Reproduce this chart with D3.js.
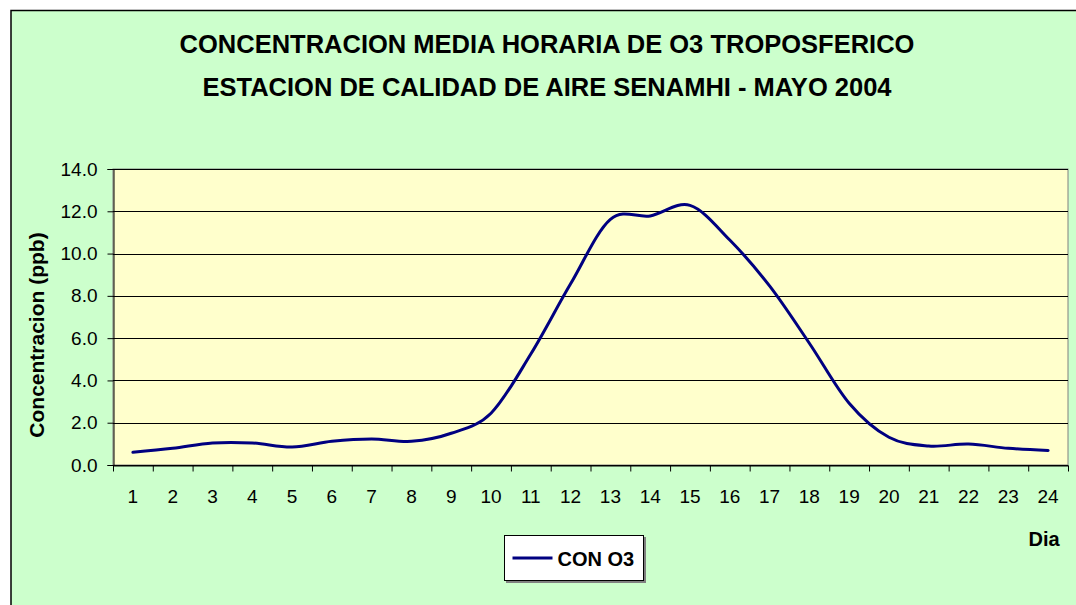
<!DOCTYPE html>
<html>
<head>
<meta charset="utf-8">
<script src="https://cdn.jsdelivr.net/npm/d3@7/dist/d3.min.js"></script>
<style>
  html, body { margin: 0; padding: 0; background: #ffffff; }
  svg { display: block; }
  text { font-family: "Liberation Sans", Arial, sans-serif; fill: #000; }
</style>
</head>
<body>
<svg id="chart" width="1076" height="605"></svg>
<script>
// Hourly mean O3 concentration (ppb), hours 1..24
const hours = ["1","2","3","4","5","6","7","8","9","10","11","12","13","14","15","16","17","18","19","20","21","22","23","24"];
const o3Values = [0.60, 0.79, 1.04, 1.04, 0.85, 1.12, 1.23, 1.12, 1.50, 2.45, 5.25, 8.57, 11.62, 11.78, 12.28, 10.64, 8.47, 5.76, 2.92, 1.31, 0.90, 0.99, 0.79, 0.69];
const yTicks = [0, 2, 4, 6, 8, 10, 12, 14];
const titleLines = ["CONCENTRACION MEDIA HORARIA DE O3 TROPOSFERICO", "ESTACION DE CALIDAD DE AIRE SENAMHI - MAYO 2004"];
const seriesName = "CON O3";

const svg = d3.select("#chart");
const W = 1076, H = 605;
const plot = { left: 113, right: 1068, top: 169, bottom: 465 };

// Chart area background and frame
svg.append("rect")
  .attr("x", 11).attr("y", 10.5)
  .attr("width", W + 20).attr("height", H + 20)
  .attr("fill", "#ccffcc")
  .attr("stroke", "#000").attr("stroke-width", 1.5);

// Plot area
svg.append("rect")
  .attr("x", plot.left).attr("y", plot.top)
  .attr("width", plot.right - plot.left).attr("height", plot.bottom - plot.top)
  .attr("fill", "#ffffcc")
  .attr("stroke", "#808080").attr("stroke-width", 1);

const x = d3.scaleBand().domain(hours).range([plot.left, plot.right]).padding(0);
const xEdges = d3.scaleLinear().domain([0, hours.length]).range([plot.left, plot.right]);
const y = d3.scaleLinear().domain([0, 14]).range([plot.bottom, plot.top]);

// Horizontal gridlines
svg.append("g")
  .selectAll("line")
  .data(yTicks)
  .join("line")
  .attr("x1", plot.left).attr("x2", plot.right)
  .attr("y1", d => Math.round(y(d)) + 0.5).attr("y2", d => Math.round(y(d)) + 0.5)
  .attr("stroke", "#000").attr("stroke-width", 1);

// Y axis
const yAxis = svg.append("g")
  .attr("transform", `translate(${plot.left + 0.5},0)`)
  .call(d3.axisLeft(y).tickValues(yTicks).tickFormat(d3.format(".1f")).tickSize(6).tickPadding(10));
yAxis.select(".domain").attr("stroke", "#000");
yAxis.selectAll(".tick line").attr("stroke", "#000");
yAxis.selectAll(".tick text")
  .attr("font-size", 19)
  .attr("font-family", "'Liberation Sans', Arial, sans-serif")
  .attr("fill", "#000");

// X axis: tick marks at category boundaries
const xTickAxis = svg.append("g")
  .attr("transform", `translate(0,${plot.bottom + 0.5})`)
  .call(d3.axisBottom(xEdges).tickValues(d3.range(0, hours.length + 1)).tickFormat("").tickSize(6).tickSizeOuter(0));
xTickAxis.select(".domain").attr("stroke", "#000");
xTickAxis.selectAll(".tick line").attr("stroke", "#000");

// X axis: labels centred in each category
const xLabelAxis = svg.append("g")
  .attr("transform", `translate(0,${plot.bottom})`)
  .call(d3.axisBottom(x).tickSize(0).tickPadding(25));
xLabelAxis.select(".domain").remove();
xLabelAxis.selectAll(".tick text")
  .attr("font-size", 19)
  .attr("font-family", "'Liberation Sans', Arial, sans-serif")
  .attr("fill", "#000");

// Series line (smoothed)
const line = d3.line()
  .x((d, i) => x(hours[i]) + x.bandwidth() / 2)
  .y(d => y(d))
  .curve(d3.curveCatmullRom.alpha(0));

svg.append("path")
  .datum(o3Values)
  .attr("d", line)
  .attr("fill", "none")
  .attr("stroke", "#000080")
  .attr("stroke-width", 3)
  .attr("stroke-linejoin", "round")
  .attr("stroke-linecap", "round");

// Titles
svg.append("g").selectAll("text")
  .data(titleLines)
  .join("text")
  .attr("x", 547)
  .attr("y", (d, i) => 53 + i * 43)
  .attr("text-anchor", "middle")
  .attr("font-size", 25.5)
  .attr("font-weight", "bold")
  .text(d => d);

// Axis titles
svg.append("text")
  .attr("transform", "translate(44,335) rotate(-90)")
  .attr("text-anchor", "middle")
  .attr("font-size", 21)
  .attr("font-weight", "bold")
  .text("Concentracion (ppb)");

svg.append("text")
  .attr("x", 1044).attr("y", 546)
  .attr("text-anchor", "middle")
  .attr("font-size", 20)
  .attr("font-weight", "bold")
  .text("Dia");

// Legend
const legend = svg.append("g").attr("transform", "translate(504.5,535.5)");
legend.append("rect")
  .attr("x", 1.5).attr("y", 1.5).attr("width", 140).attr("height", 46)
  .attr("fill", "#808080");
legend.append("rect")
  .attr("width", 139).attr("height", 45)
  .attr("fill", "#fff").attr("stroke", "#000").attr("stroke-width", 1);
legend.append("line")
  .attr("x1", 8).attr("x2", 48).attr("y1", 22.5).attr("y2", 22.5)
  .attr("stroke", "#000080").attr("stroke-width", 3);
legend.append("text")
  .attr("x", 53).attr("y", 30)
  .attr("font-size", 20)
  .attr("font-weight", "bold")
  .text(seriesName);
</script>
</body>
</html>
